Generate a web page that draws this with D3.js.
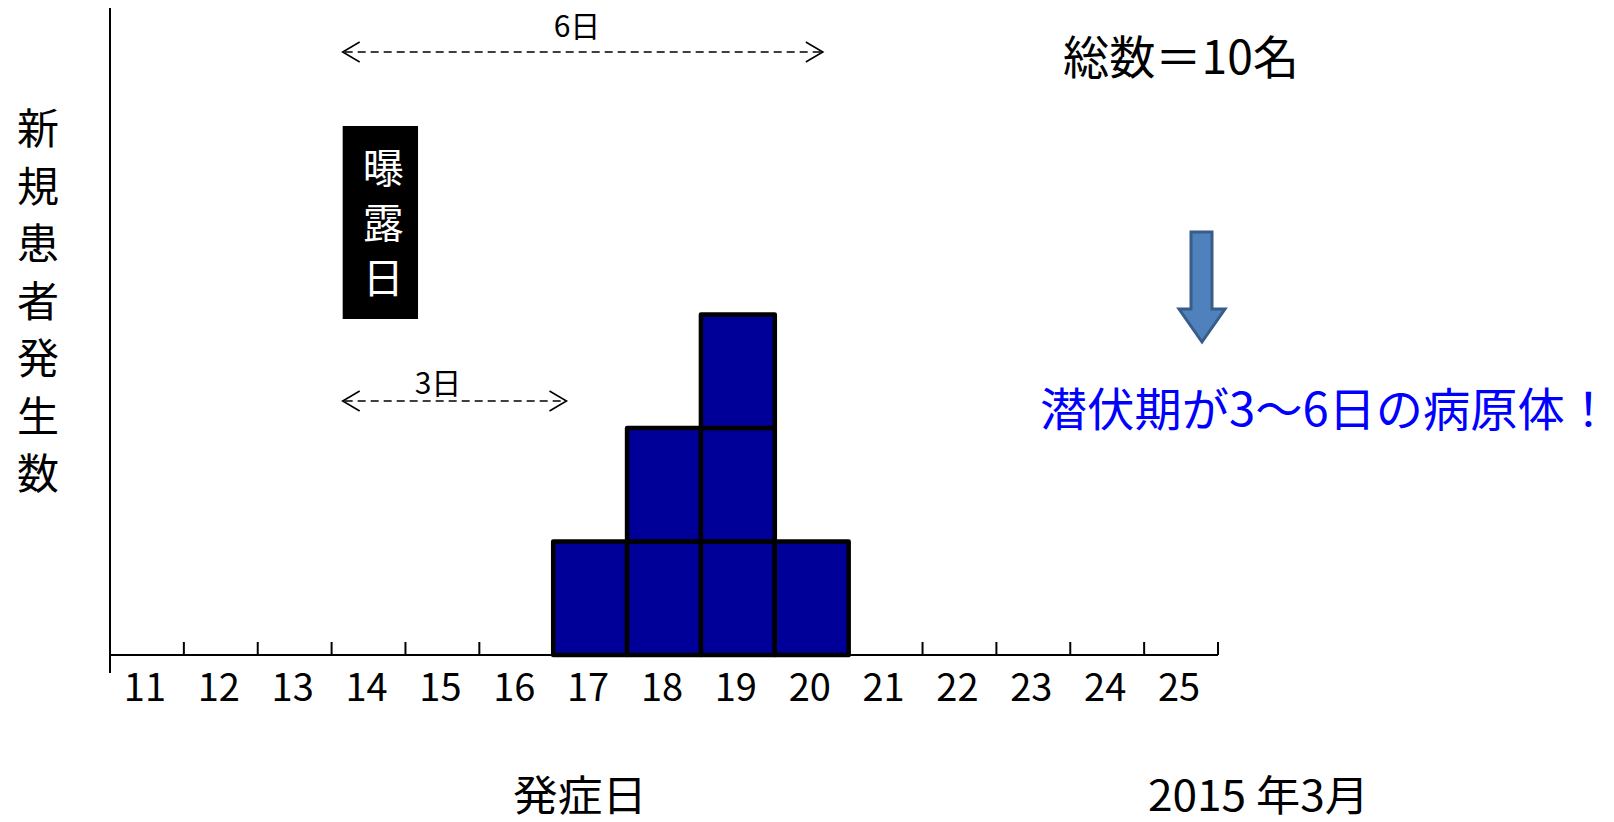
<!DOCTYPE html>
<html lang="ja">
<head>
<meta charset="utf-8">
<script src="https://cdn.jsdelivr.net/npm/d3@7/dist/d3.min.js"></script>
<style>
  html, body { margin: 0; padding: 0; background: #fff; }
  svg { display: block; }
  text { font-family: "Noto Sans CJK JP", "Noto Sans", sans-serif; }
</style>
</head>
<body>
<svg id="chart" width="1614" height="822"></svg>
<script>
// Onset dates (March 2015) and new cases per day
const days = ["11","12","13","14","15","16","17","18","19","20","21","22","23","24","25"];
const cases = [0, 0, 0, 0, 0, 0, 1, 2, 3, 1, 0, 0, 0, 0, 0];

// Annotation spans, in days on the date axis
const exposureSpan = [13.65, 14.67];
const incubationSpans = [
  { label: "6日", from: 13.65, to: 20.15, y: 52, labelX: 577, labelY: 26 },
  { label: "3日", from: 13.65, to: 16.68, y: 401, labelX: 438, labelY: 383 }
];
const yLabelChars = ["新", "規", "患", "者", "発", "生", "数"];
const exposureChars = ["曝", "露", "日"];

const svg = d3.select("#chart");

const x = d3.scaleBand().domain(days).range([110, 1218]).padding(0);
const dayLin = d3.scaleLinear().domain([10.5, 25.5]).range([110, 1218]);
const y = d3.scaleLinear().domain([0, 5.7]).range([655, 8]);

// One box per case, stacked on its onset day
const boxes = [];
days.forEach((d, i) => {
  for (let k = 0; k < cases[i]; k++) boxes.push({ day: d, level: k });
});

svg.append("g").selectAll("rect")
  .data(boxes)
  .join("rect")
  .attr("x", d => x(d.day))
  .attr("width", x.bandwidth())
  .attr("y", d => y(d.level + 1))
  .attr("height", d => y(d.level) - y(d.level + 1))
  .attr("fill", "#000099")
  .attr("stroke", "#000")
  .attr("stroke-width", 4.5)
  .attr("stroke-linejoin", "round");

// X axis: ticks between days, pointing up
const xAxisG = svg.append("g");
xAxisG.append("line")
  .attr("x1", 110).attr("x2", 1218)
  .attr("y1", y(0)).attr("y2", y(0))
  .attr("stroke", "#000").attr("stroke-width", 2);
const boundaries = days.slice(1).map(d => x(d)).concat([x(days[days.length - 1]) + x.bandwidth()]);
xAxisG.selectAll("line.tick")
  .data(boundaries)
  .join("line")
  .attr("class", "tick")
  .attr("x1", d => d).attr("x2", d => d)
  .attr("y1", y(0)).attr("y2", y(0) - 13)
  .attr("stroke", "#000").attr("stroke-width", 2);
xAxisG.selectAll("text")
  .data(days)
  .join("text")
  .attr("x", d => x(d) + x.bandwidth() / 2 - 2)
  .attr("y", y(0) + 32)
  .attr("dy", "0.36em")
  .attr("text-anchor", "middle")
  .attr("font-size", 38)
  .attr("fill", "#000")
  .text(d => d);

// Y axis line
svg.append("line")
  .attr("x1", 110).attr("x2", 110)
  .attr("y1", y(5.7)).attr("y2", y(0) + 18)
  .attr("stroke", "#000").attr("stroke-width", 2);

// Vertical y-axis title
svg.append("g").selectAll("text")
  .data(yLabelChars)
  .join("text")
  .attr("x", 38)
  .attr("y", (d, i) => 129 + i * 57.5)
  .attr("dy", "0.36em")
  .attr("text-anchor", "middle")
  .attr("font-size", 42)
  .attr("fill", "#000")
  .text(d => d);

// Exposure day marker
const expG = svg.append("g");
expG.append("rect")
  .attr("x", dayLin(exposureSpan[0]))
  .attr("width", dayLin(exposureSpan[1]) - dayLin(exposureSpan[0]))
  .attr("y", 126).attr("height", 193)
  .attr("fill", "#000");
expG.selectAll("text")
  .data(exposureChars)
  .join("text")
  .attr("x", (dayLin(exposureSpan[0]) + dayLin(exposureSpan[1])) / 2 + 3)
  .attr("y", (d, i) => 168 + i * 55)
  .attr("dy", "0.36em")
  .attr("text-anchor", "middle")
  .attr("font-size", 41)
  .attr("fill", "#fff")
  .text(d => d);

// Incubation span arrows (dashed, open heads at both ends)
const spanG = svg.append("g").selectAll("g")
  .data(incubationSpans)
  .join("g");
spanG.append("line")
  .attr("x1", d => dayLin(d.from) + 2).attr("x2", d => dayLin(d.to) - 2)
  .attr("y1", d => d.y).attr("y2", d => d.y)
  .attr("stroke", "#000").attr("stroke-width", 1.6)
  .attr("stroke-dasharray", "8,5");
spanG.append("path")
  .attr("d", d => {
    const a = dayLin(d.from), b = dayLin(d.to);
    return `M${a + 17},${d.y - 10}L${a},${d.y}L${a + 17},${d.y + 10}` +
           `M${b - 17},${d.y - 10}L${b},${d.y}L${b - 17},${d.y + 10}`;
  })
  .attr("fill", "none").attr("stroke", "#000").attr("stroke-width", 1.6);
spanG.append("text")
  .attr("x", d => d.labelX)
  .attr("y", d => d.labelY)
  .attr("dy", "0.36em")
  .attr("text-anchor", "middle")
  .attr("font-size", 30)
  .attr("fill", "#000")
  .text(d => d.label);

// Total count
svg.append("text")
  .attr("x", 1063).attr("y", 57)
  .attr("dy", "0.36em")
  .attr("font-size", 46)
  .attr("textLength", 236)
  .attr("lengthAdjust", "spacingAndGlyphs")
  .attr("fill", "#000")
  .text("総数＝10名");

// Block arrow pointing down to the conclusion
svg.append("path")
  .attr("d", "M1191,232L1212,232L1212,309L1225,309L1202,342L1179,309L1191,309Z")
  .attr("fill", "#4f81bd")
  .attr("stroke", "#385d8a")
  .attr("stroke-width", 3)
  .attr("stroke-linejoin", "miter");

svg.append("text")
  .attr("x", 1040).attr("y", 409)
  .attr("dy", "0.36em")
  .attr("font-size", 46)
  .attr("textLength", 572)
  .attr("lengthAdjust", "spacingAndGlyphs")
  .attr("fill", "#0000ff")
  .text("潜伏期が3～6日の病原体！");

// Bottom titles
svg.append("text")
  .attr("x", 513).attr("y", 796)
  .attr("dy", "0.36em")
  .attr("font-size", 42)
  .attr("textLength", 134)
  .attr("lengthAdjust", "spacingAndGlyphs")
  .attr("fill", "#000")
  .text("発症日");
svg.append("text")
  .attr("x", 1148).attr("y", 796)
  .attr("dy", "0.36em")
  .attr("font-size", 42)
  .attr("textLength", 221)
  .attr("lengthAdjust", "spacingAndGlyphs")
  .attr("fill", "#000")
  .text("2015 年3月");
</script>
</body>
</html>
